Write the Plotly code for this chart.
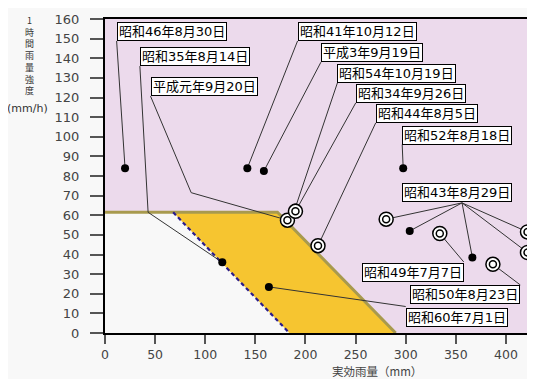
import plotly.graph_objects as go

# ---------------- data ----------------
event_dates = ["昭和46年8月30日", "昭和35年8月14日", "平成元年9月20日", "昭和41年10月12日",
               "平成3年9月19日", "昭和54年10月19日", "昭和34年9月26日", "昭和44年8月5日",
               "昭和52年8月18日", "昭和43年8月29日", "昭和43年8月29日", "昭和43年8月29日",
               "昭和43年8月29日", "昭和43年8月29日", "昭和49年7月7日", "昭和50年8月23日",
               "昭和60年7月1日"]
effective_rain = [20, 117, 182, 142, 158.5, 190, 190, 212.5, 297.5, 280.5, 304, 366.5, 421.5, 421.5, 334, 387, 163.5]
hourly_rain = [84, 36, 57.5, 84, 82.5, 64, 62, 44.5, 84, 58, 52, 38.5, 51.5, 41, 50.7, 35, 23.5]
marker_kind = ["dot", "dot", "ring", "dot", "dot", "dot", "ring", "ring", "dot", "ring", "dot", "dot",
               "ring", "ring", "ring", "ring", "dot"]

# critical line and lower (dashed) line of the band
critical_x = [0, 172, 290]
critical_y = [61.5, 61.5, 0]
lower_x = [68, 184]
lower_y = [61.5, 0]

x_ticks = [0, 50, 100, 150, 200, 250, 300, 350, 400]
y_ticks = list(range(0, 161, 10))

# ---------------- label layout ----------------
labels = [
    # text, box x, box y, xanchor, yanchor, leader start x, y, bend points, target indices
    ("昭和46年8月30日", 11.6, 148.8, "left", "bottom", 11.6, 148.8, [], [0]),
    ("昭和35年8月14日", 34.8, 136.0, "left", "bottom", 34.8, 136.0, [(43, 61.5)], [1]),
    ("平成元年9月20日", 45.4, 120.7, "left", "bottom", 45.4, 120.7, [(86, 71.5)], [2]),
    ("昭和41年10月12日", 192.1, 148.8, "left", "bottom", 192.1, 148.8, [], [3]),
    ("平成3年9月19日", 215.4, 138.0, "left", "bottom", 215.4, 138.0, [], [4]),
    ("昭和54年10月19日", 231.9, 127.5, "left", "bottom", 231.9, 127.5, [], [5]),
    ("昭和34年9月26日", 250.2, 117.3, "left", "bottom", 250.2, 117.3, [], [6]),
    ("昭和44年8月5日", 270.1, 107.1, "left", "bottom", 270.1, 107.1, [], [7]),
    ("昭和52年8月18日", 296.5, 96.0, "left", "bottom", 296.5, 96.0, [], [8]),
    ("昭和43年8月29日", 296.2, 66.5, "left", "bottom", 356.2, 66.3, [], [9, 10, 11, 12, 13]),
    ("昭和49年7月7日", 357.9, 35.6, "right", "top", 357.9, 36.2, [], [14]),
    ("昭和50年8月23日", 414.3, 24.5, "right", "top", 414.3, 24.5, [], [15]),
    ("昭和60年7月1日", 300.0, 12.8, "left", "top", 300.0, 13.5, [], [16]),
]

PINK = "#ECDAEC"
YELLOW = "#F6C530"
OLIVE = "#A89A4E"
LABEL_FONT = "DejaVu Sans, Noto Sans CJK JP"

fig = go.Figure()

fig.add_trace(go.Scatter(x=[0, 0, lower_x[0], lower_x[1], 0], y=[0, critical_y[0], lower_y[0], lower_y[1], 0],
                         fill="toself", fillcolor="#F8F8F8", line=dict(width=0), mode="lines",
                         hoverinfo="skip", showlegend=False))
fig.add_trace(go.Scatter(x=[lower_x[0], critical_x[1], critical_x[2], lower_x[1], lower_x[0]],
                         y=[lower_y[0], critical_y[1], critical_y[2], lower_y[1], lower_y[0]],
                         fill="toself", fillcolor=YELLOW, line=dict(width=0), mode="lines",
                         hoverinfo="skip", showlegend=False))
fig.add_trace(go.Scatter(x=critical_x, y=critical_y, mode="lines", line=dict(color=OLIVE, width=3),
                         hoverinfo="skip", showlegend=False))
fig.add_trace(go.Scatter(x=lower_x, y=lower_y, mode="lines",
                         line=dict(color="#2B1C8C", width=2.2, dash="4px,3px"),
                         hoverinfo="skip", showlegend=False))

for text, bx, by, xa, ya, sx, sy, bends, targets in labels:
    for t in targets:
        xs = [sx] + [b[0] for b in bends] + [effective_rain[t]]
        ys = [sy] + [b[1] for b in bends] + [hourly_rain[t]]
        fig.add_trace(go.Scatter(x=xs, y=ys, mode="lines", line=dict(color="#333333", width=1),
                                 hoverinfo="skip", showlegend=False, cliponaxis=False))

dx = [x for x, k in zip(effective_rain, marker_kind) if k == "dot"]
dy = [y for y, k in zip(hourly_rain, marker_kind) if k == "dot"]
rx = [x for x, k in zip(effective_rain, marker_kind) if k == "ring"]
ry = [y for y, k in zip(hourly_rain, marker_kind) if k == "ring"]
fig.add_trace(go.Scatter(x=dx, y=dy, mode="markers", marker=dict(color="black", size=8),
                         showlegend=False, cliponaxis=False))
fig.add_trace(go.Scatter(x=rx, y=ry, mode="markers",
                         marker=dict(color="white", size=14, line=dict(color="black", width=1.5)),
                         showlegend=False, cliponaxis=False))
fig.add_trace(go.Scatter(x=rx, y=ry, mode="markers",
                         marker=dict(symbol="circle-open", color="black", size=7, line=dict(width=1.5)),
                         showlegend=False, cliponaxis=False))

annotations = []
for text, bx, by, xa, ya, sx, sy, bends, targets in labels:
    annotations.append(dict(x=bx, y=by, xref="x", yref="y", text=text, showarrow=False,
                            xanchor=xa, yanchor=ya, bgcolor="white", bordercolor="black",
                            borderwidth=1, borderpad=1,
                            font=dict(family=LABEL_FONT, size=13, color="black")))

# page body has an 8px margin: figure is placed at (8, 8) in the window
OFF = 8
W, H = 535 - OFF, 379 - OFF
L, R, T, B = 105 - OFF, 4, 19 - OFF, 46
pw, ph = W - L - R, H - T - B

def px_to_paper(px, py):
    return (px - OFF - L) / pw, (H - (py - OFF) - B) / ph

# y-axis title (stacked vertical characters) in window pixel coordinates
ax_, ay_ = px_to_paper(29, 12)
annotations.append(dict(x=ax_, y=ay_, xref="paper", yref="paper",
                        text="1<br>時<br>間<br>雨<br>量<br>強<br>度", showarrow=False,
                        xanchor="center", yanchor="top", align="center",
                        font=dict(family="Noto Sans CJK JP", size=9, color="#333333")))
ax_, ay_ = px_to_paper(27, 108)
annotations.append(dict(x=ax_, y=ay_, xref="paper", yref="paper", text="(mm/h)", showarrow=False,
                        xanchor="center", yanchor="middle",
                        font=dict(family="DejaVu Sans", size=11, color="#333333")))
ax_, ay_ = px_to_paper(378, 371)
annotations.append(dict(x=ax_, y=ay_, xref="paper", yref="paper", text="実効雨量（mm）",
                        showarrow=False, xanchor="center", yanchor="middle",
                        font=dict(family="Noto Sans CJK JP", size=11.5, color="#444444")))

fig.update_layout(
    width=W, height=H,
    margin=dict(l=L, r=R, t=T, b=B, pad=0),
    paper_bgcolor="#F8F8F8",
    plot_bgcolor=PINK,
    annotations=annotations,
    xaxis=dict(range=[0, 423], tickvals=x_ticks, ticks="outside", ticklen=9, tickwidth=2,
               tickcolor="#555555", showgrid=False, zeroline=False, showline=True, linecolor="black",
               linewidth=2, mirror=True, ticklabelstandoff=0,
               tickfont=dict(family="DejaVu Sans", size=12.5, color="#444444")),
    yaxis=dict(range=[0, 160], tickvals=y_ticks, ticks="outside", ticklen=13, tickwidth=2,
               tickcolor="#555555", showgrid=False, zeroline=False, showline=True, linecolor="black",
               linewidth=2, mirror=True, ticklabelstandoff=8,
               tickfont=dict(family="DejaVu Sans", size=13, color="#444444")),
)

fig.write_html("out.html")
